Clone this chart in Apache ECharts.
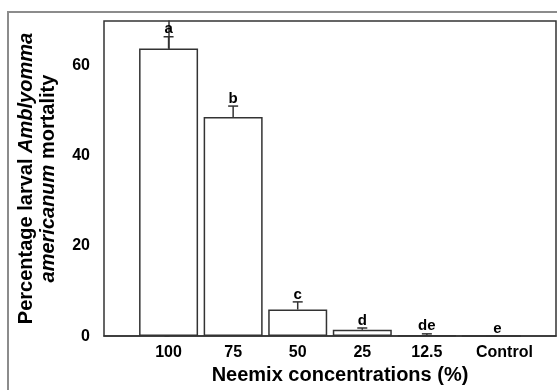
<!DOCTYPE html>
<html>
<head>
<meta charset="utf-8">
<script src="https://cdn.jsdelivr.net/npm/echarts@6/dist/echarts.min.js"></script>
<style>
  html, body { margin: 0; padding: 0; background: #fff; }
  #chart { width: 557px; height: 390px; }
</style>
</head>
<body>
<div id="chart"></div>
<script>
// 浓度分组
const categories = ['100', '75', '50', '25', '12.5', 'Control'];
// 平均死亡率 (%)
const mortality = [63.9, 48.7, 5.9, 1.4, 0.2, 0];
// 误差线上端 (mean + SE)
const errorTop = [66.5, 51.1, 7.6, 1.8, 0.5, 0];
// 显著性字母
const letters = ['a', 'b', 'c', 'd', 'de', 'e'];
const yTicks = [0, 20, 40, 60];

const font = 'Arial, "Liberation Sans", sans-serif';
const ink = '#333';

const chart = echarts.init(document.getElementById('chart'));

chart.setOption({
  animation: false,
  backgroundColor: '#fff',
  graphic: [
    {
      type: 'rect',
      shape: { x: 8, y: 12, width: 620, height: 420 },
      style: { fill: 'none', stroke: '#8c8c8c', lineWidth: 2 },
      silent: true,
    },
  ],
  grid: {
    left: 104,
    right: 1,
    top: 21,
    bottom: 53,
    show: true,
    borderColor: ink,
    borderWidth: 1.5,
  },
  xAxis: {
    type: 'value',
    min: -1,
    max: 6,
    interval: 1,
    splitLine: { show: false },
    axisLine: { lineStyle: { color: ink, width: 1.5 } },
    axisTick: { show: false },
    axisLabel: {
      customValues: categories.map((c, i) => i),
      // Control 标签在原图里略偏右
      formatter: (v) => (v === 5 ? '{ctl|' + categories[v] + '}' : categories[v] || ''),
      color: '#000',
      fontFamily: font,
      fontWeight: 'bold',
      fontSize: 16,
      margin: 8,
      rich: {
        ctl: { fontFamily: font, fontWeight: 'bold', fontSize: 16, color: '#000', padding: [0, 0, 0, 26] },
      },
    },
    name: 'Neemix concentrations (%)',
    nameLocation: 'middle',
    nameGap: 27,
    nameTextStyle: {
      color: '#000',
      fontFamily: font,
      fontWeight: 'bold',
      fontSize: 20,
      padding: [0, 0, 0, 20],
    },
  },
  yAxis: {
    type: 'value',
    min: 0,
    max: 70,
    splitLine: { show: false },
    axisLine: { show: true, lineStyle: { color: ink, width: 1.5 } },
    axisTick: {
      show: true,
      length: 4,
      customValues: yTicks,
      lineStyle: { color: ink, width: 1.5 },
    },
    axisLabel: {
      customValues: yTicks,
      color: '#000',
      fontFamily: font,
      fontWeight: 'bold',
      fontSize: 16,
      margin: 14,
    },
    name: '{n|Percentage larval }{i|Amblyomma}\n{i|americanum}{n| mortality}',
    nameLocation: 'middle',
    nameGap: 45,
    nameTextStyle: {
      color: '#000',
      fontFamily: font,
      fontWeight: 'bold',
      fontSize: 20,
      lineHeight: 22,
      rich: {
        n: { fontFamily: font, fontWeight: 'bold', fontSize: 20, lineHeight: 22, color: '#000' },
        i: { fontFamily: font, fontWeight: 'bold', fontStyle: 'italic', fontSize: 20, lineHeight: 22, color: '#000' },
      },
    },
  },
  series: [
    {
      type: 'bar',
      barWidth: 59,
      data: mortality.map((v, i) => [i, v]),
      itemStyle: { color: '#fff', borderColor: ink, borderWidth: 1.5 },
      z: 2,
    },
    {
      type: 'custom',
      data: errorTop.map((v, i) => [i, mortality[i], v]),
      z: 3,
      renderItem: (params, api) => {
        const i = api.value(0);
        const base = api.coord([i, api.value(1)]);
        const top = api.coord([i, api.value(2)]);
        const lineStyle = { stroke: ink, lineWidth: 1.5 };
        // Control 的字母也略偏右
        const dx = i === 5 ? 6 : 0;
        return {
          type: 'group',
          children: [
            {
              type: 'line',
              shape: { x1: top[0], y1: base[1], x2: top[0], y2: top[1] },
              style: lineStyle,
            },
            {
              type: 'line',
              shape: { x1: top[0] - 5, y1: top[1], x2: top[0] + 5, y2: top[1] },
              style: lineStyle,
            },
            {
              type: 'text',
              x: top[0] + dx,
              y: top[1],
              style: {
                text: letters[i],
                fill: '#000',
                font: 'bold 15px ' + font,
                align: 'center',
                verticalAlign: 'bottom',
              },
            },
          ],
        };
      },
    },
  ],
});
</script>
</body>
</html>
